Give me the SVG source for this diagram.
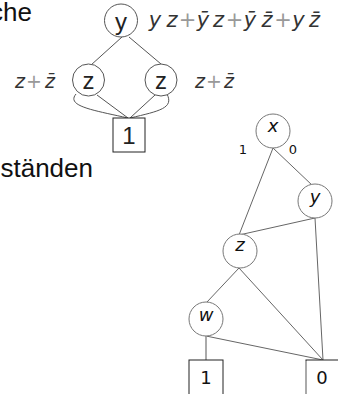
<svg xmlns="http://www.w3.org/2000/svg" width="338" height="394" viewBox="0 0 338 394">
  <style>
    .bg { fill: #ffffff; }
    .word { font-family: "Liberation Sans", Arial, sans-serif; font-size: 26px; fill: #111; }
    .node1 { fill: #ffffff; stroke: #555; stroke-width: 1; }
    .lab1 { font-family: "Liberation Sans", Arial, sans-serif; font-size: 24px; fill: #222; text-anchor: middle; }
    .box { fill: #ffffff; stroke: #222; stroke-width: 1; }
    .edge1 { fill: none; stroke: #555; stroke-width: 1; }
    .math { font-family: "DejaVu Sans", sans-serif; font-style: oblique; fill: #333; text-anchor: middle; }
    .plus { font-style: normal; fill: #999; }
    .node2 { fill: #ffffff; stroke: #777; stroke-width: 1; }
    .lab2 { font-family: "DejaVu Sans", sans-serif; font-style: oblique; font-size: 18px; fill: #111; text-anchor: middle; }
    .term { font-family: "DejaVu Sans", sans-serif; font-size: 18px; fill: #111; text-anchor: middle; }
    .edge2 { fill: none; stroke: #666; stroke-width: 1; }
    .edge2s { fill: none; stroke: #aaa; stroke-width: 2; }
    .elab { font-family: "DejaVu Sans", sans-serif; font-size: 13px; fill: #111; text-anchor: middle; }
  </style>
  <rect class="bg" x="0" y="0" width="338" height="394"/>

  <!-- word fragments at the left margin -->
  <text class="word" x="32" y="21" text-anchor="end">che</text>
  <text class="word" x="93" y="177" text-anchor="end">ständen</text>

  <!-- small graph: connectors -->
  <g id="edges-top">
    <line class="edge1" x1="122" y1="37" x2="91" y2="65"/>
    <line class="edge1" x1="129" y1="37" x2="161" y2="64"/>
    <line class="edge1" x1="97" y1="95" x2="128" y2="118"/>
    <line class="edge1" x1="155" y1="95" x2="130" y2="118"/>
    <path class="edge1" d="M 76 94 C 66 106 92 110 128 118"/>
    <path class="edge1" d="M 167 94 C 174 108 160 111 130 118"/>
  </g>

  <!-- small graph: nodes -->
  <g id="top-y">
    <circle class="node1" cx="121" cy="20.5" r="16.5"/>
    <text class="lab1" x="121" y="30">y</text>
  </g>
  <g id="top-z-left">
    <circle class="node1" cx="88.5" cy="80" r="16"/>
    <text class="lab1" x="88.5" y="89">z</text>
  </g>
  <g id="top-z-right">
    <circle class="node1" cx="161" cy="80" r="16"/>
    <text class="lab1" x="161" y="89">z</text>
  </g>
  <g id="top-one">
    <rect class="box" x="113" y="118" width="32" height="34"/>
    <text class="lab1" x="129" y="144">1</text>
  </g>

  <!-- formulas beside the small graph, one token per tspan -->
  <text class="math" y="27" font-size="21"><tspan x="155">y</tspan><tspan x="172">z</tspan><tspan class="plus" x="187.5">+</tspan><tspan x="203">ȳ</tspan><tspan x="218.5">z</tspan><tspan class="plus" x="234.5">+</tspan><tspan x="250">ȳ</tspan><tspan x="267">z̄</tspan><tspan class="plus" x="283">+</tspan><tspan x="298.5">y</tspan><tspan x="314.5">z̄</tspan></text>
  <text class="math" y="88" font-size="19"><tspan x="20">z</tspan><tspan class="plus" x="34">+</tspan><tspan x="50">z̄</tspan></text>
  <text class="math" y="88" font-size="19"><tspan x="200">z</tspan><tspan class="plus" x="214">+</tspan><tspan x="229">z̄</tspan></text>

  <!-- large graph: connectors -->
  <g id="edges-bdd">
    <line class="edge2" x1="273" y1="148" x2="239" y2="235"/>
    <line class="edge2" x1="273" y1="148" x2="313" y2="186"/>
    <line class="edge2" x1="315" y1="218" x2="239" y2="235"/>
    <line class="edge2" x1="315" y1="218" x2="323" y2="360"/>
    <line class="edge2" x1="239" y1="268" x2="207" y2="302"/>
    <line class="edge2" x1="239" y1="268" x2="323" y2="360"/>
    <line class="edge2" x1="206" y1="336" x2="323" y2="360"/>
    <line class="edge2s" x1="206" y1="336" x2="206" y2="360"/>
    <text class="elab" x="243" y="154">1</text>
    <text class="elab" x="293" y="154">0</text>
  </g>

  <!-- large graph: nodes -->
  <g id="bdd-x">
    <circle class="node2" cx="273" cy="131" r="17"/>
    <text class="lab2" x="273" y="132">x</text>
  </g>
  <g id="bdd-y">
    <circle class="node2" cx="315" cy="201" r="17"/>
    <text class="lab2" x="315" y="203">y</text>
  </g>
  <g id="bdd-z">
    <circle class="node2" cx="240" cy="251" r="17"/>
    <text class="lab2" x="240" y="251">z</text>
  </g>
  <g id="bdd-w">
    <circle class="node2" cx="206" cy="319" r="17"/>
    <text class="lab2" x="206" y="321">w</text>
  </g>
  <g id="bdd-one">
    <rect class="box" x="189" y="360" width="34" height="40"/>
    <text class="term" x="206" y="384">1</text>
  </g>
  <g id="bdd-zero">
    <rect class="box" x="306" y="360" width="40" height="40"/>
    <line class="edge2s" x1="306" y1="361" x2="306" y2="394"/>
    <text class="term" x="322" y="384">0</text>
  </g>
</svg>
